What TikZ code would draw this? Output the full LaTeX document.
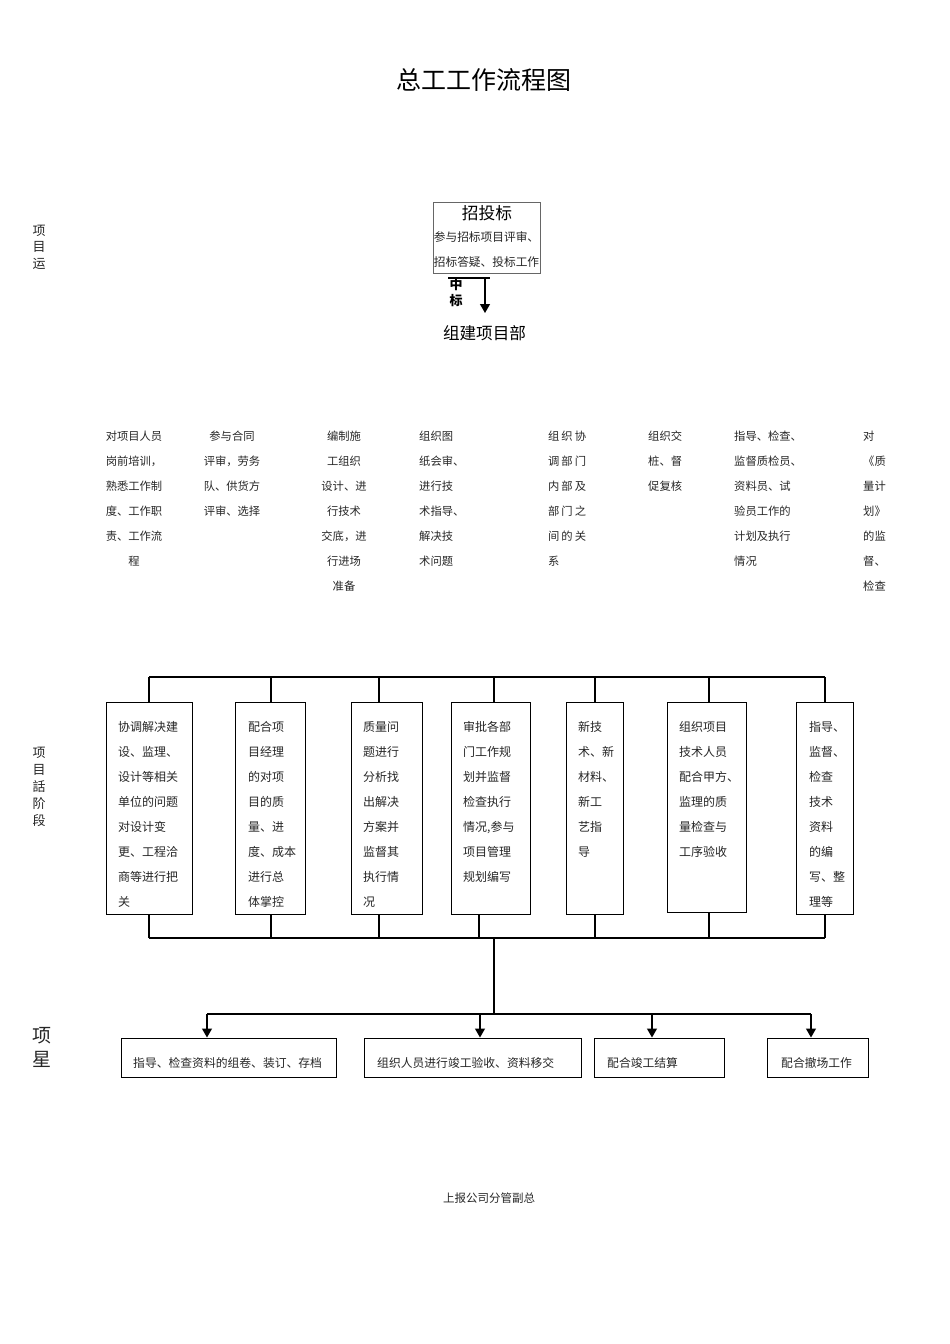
\documentclass[tikz,border=0pt]{standalone}
\usepackage{fontspec}
\setmainfont{Noto Sans CJK SC}
\usetikzlibrary{arrows.meta,shadows}
\begin{document}
\begin{tikzpicture}[x=1pt,y=-1pt,
  col/.style={inner sep=0pt, anchor=north west, align=left, font=\fontsize{11.3}{25}\selectfont, text=black!85},
  colc/.style={col, anchor=north, align=center},
  btxt/.style={inner sep=0pt, anchor=north west, align=left, font=\fontsize{12}{25}\selectfont, text=black!85},
  ltxt/.style={inner sep=0pt, anchor=west, font=\fontsize{11.8}{14}\selectfont, text=black!85},
  box/.style={draw, line width=1pt, fill=white, inner sep=0pt,
     drop shadow={shadow xshift=1pt, shadow yshift=-1pt, fill=black, opacity=1}},
  wire/.style={line width=1.2pt},
  arr/.style={wire, -{Triangle[width=10pt,length=9pt]}},
  side/.style={inner sep=0pt, align=center, text=black!85}
]
\useasboundingbox (0,0) rectangle (950,1344);

% title
\node[inner sep=0pt, font=\fontsize{25}{28}\selectfont] (title) at (483.5,80) {总工工作流程图};

% left labels
\node[side, font=\fontsize{13}{16.5}\selectfont] (l1) at (39,247) {项\\目\\运};
\node[side, font=\fontsize{13}{17}\selectfont] (l2) at (39,787) {项\\目\\話\\阶\\段};
\node[side, font=\fontsize{19}{24}\selectfont] (l3) at (42,1047) {项\\星};

% bidding box
\node[draw=black!60, line width=0.8pt, minimum width=107pt, minimum height=71pt, inner sep=0pt] (tb) at (486.5,237.5) {};
\node[inner sep=0pt, font=\fontsize{16.7}{18}\selectfont] (tbh) at (487,213) {招投标};
\node[inner sep=0pt, font=\fontsize{11.7}{14}\selectfont, text=black!85] (tb1) at (486.5,237) {参与招标项目评审、};
\node[inner sep=0pt, font=\fontsize{11.7}{14}\selectfont, text=black!85] (tb2) at (486.5,262) {招标答疑、投标工作};
\coordinate (zb1) at (448,278);
\coordinate (zb2) at (490,278);
\coordinate (za) at (485,278);
\coordinate (zb) at (485,313);
\draw[wire] (zb1) -- (zb2);
\draw[arr] (za) -- (zb);
\node[inner sep=0pt, align=center, font=\bfseries\fontsize{13}{16}\selectfont] (zhb) at (456,293) {中\\标};
\node[inner sep=0pt, font=\fontsize{16.6}{18}\selectfont] (zj) at (484.5,333) {组建项目部};

% upper columns
\node[colc] (c1) at (134,431) {对项目人员\\岗前培训，\\熟悉工作制\\度、工作职\\责、工作流\\程};
\node[colc] (c2) at (232,431) {参与合同\\评审，劳务\\队、供货方\\评审、选择};
\node[colc] (c3) at (344,431) {编制施\\工组织\\设计、进\\行技术\\交底，进\\行进场\\准备};
\node[col] (c4) at (419,431) {组织图\\纸会审、\\进行技\\术指导、\\解决技\\术问题};
\node[col] (c5) at (548,431) {组\kern2pt 织\kern2pt 协\\调\kern2pt 部\kern2pt 门\\内\kern2pt 部\kern2pt 及\\部\kern2pt 门\kern2pt 之\\间\kern2pt 的\kern2pt 关\\系};
\node[col] (c6) at (648,431) {组织交\\桩、督\\促复核};
\node[col] (c7) at (734,431) {指导、检查、\\监督质检员、\\资料员、试\\验员工作的\\计划及执行\\情况};
\node[col] (c8) at (863,431) {对\\《质\\量计\\划》\\的监\\督、\\检查};

% middle boxes
\node[box, minimum width=86pt, minimum height=212pt] (m1) at (149,808) {};
\node[box, minimum width=70pt, minimum height=212pt] (m2) at (270,808) {};
\node[box, minimum width=71pt, minimum height=212pt] (m3) at (386.5,808) {};
\node[box, minimum width=79pt, minimum height=212pt] (m4) at (490.5,808) {};
\node[box, minimum width=57pt, minimum height=212pt] (m5) at (594.5,808) {};
\node[box, minimum width=79pt, minimum height=210pt] (m6) at (706.5,807) {};
\node[box, minimum width=57pt, minimum height=212pt] (m7) at (824.5,808) {};

\node[btxt] (m1t) at (118,721.5) {协调解决建\\设、监理、\\设计等相关\\单位的问题\\对设计变\\更、工程洽\\商等进行把\\关};
\node[btxt] (m2t) at (248,721.5) {配合项\\目经理\\的对项\\目的质\\量、进\\度、成本\\进行总\\体掌控};
\node[btxt] (m3t) at (363,721.5) {质量问\\题进行\\分析找\\出解决\\方案并\\监督其\\执行情\\况};
\node[btxt] (m4t) at (463,721.5) {审批各部\\门工作规\\划并监督\\检查执行\\情况,参与\\项目管理\\规划编写};
\node[btxt] (m5t) at (578,721.5) {新技\\术、新\\材料、\\新工\\艺指\\导};
\node[btxt] (m6t) at (679,721.5) {组织项目\\技术人员\\配合甲方、\\监理的质\\量检查与\\工序验收};
\node[btxt] (m7t) at (809,721.5) {指导、\\监督、\\检查\\技术\\资料\\的编\\写、整\\理等};

% top bus
\coordinate (tl) at (149,677);
\coordinate (tr) at (825,677);
\draw[wire] (tl) -- (tr);
\foreach \x/\b in {149/m1,271/m2,379/m3,494/m4,595/m5,709/m6,825/m7}{
  \coordinate (tt) at (\x,677);
  \draw[wire] (tt) -- (tt |- \b.north);
}
% bottom bus
\coordinate (bl) at (149,938);
\coordinate (br) at (825,938);
\draw[wire] (bl) -- (br);
\foreach \x/\b in {149/m1,271/m2,379/m3,479/m4,595/m5,709/m6,825/m7}{
  \coordinate (bt) at (\x,938);
  \draw[wire] (bt) -- (bt |- \b.south);
}
\coordinate (tk1) at (494,938);
\coordinate (tk2) at (494,1014);
\draw[wire] (tk1) -- (tk2);

% final boxes
\node[box, minimum width=215pt, minimum height=39pt] (b1) at (228.5,1057.5) {};
\node[box, minimum width=217pt, minimum height=39pt] (b2) at (472.5,1057.5) {};
\node[box, minimum width=130pt, minimum height=39pt] (b3) at (659,1057.5) {};
\node[box, minimum width=101pt, minimum height=39pt] (b4) at (817.5,1057.5) {};
\node[ltxt] (b1t) at (133,1063) {指导、检查资料的组卷、装订、存档};
\node[ltxt] (b2t) at (377,1063) {组织人员进行竣工验收、资料移交};
\node[ltxt] (b3t) at (607,1063) {配合竣工结算};
\node[ltxt] (b4t) at (781,1063) {配合撤场工作};

\coordinate (fl) at (207,1014);
\coordinate (fr) at (811,1014);
\draw[wire] (fl) -- (fr);
\foreach \x/\b in {207/b1,480/b2,652/b3,811/b4}{
  \coordinate (ft) at (\x,1014);
  \draw[arr] (ft) -- (ft |- \b.north);
}

\node[inner sep=0pt, font=\fontsize{11.5}{14}\selectfont, text=black!85] (report) at (489,1198) {上报公司分管副总};
\end{tikzpicture}
\end{document}
